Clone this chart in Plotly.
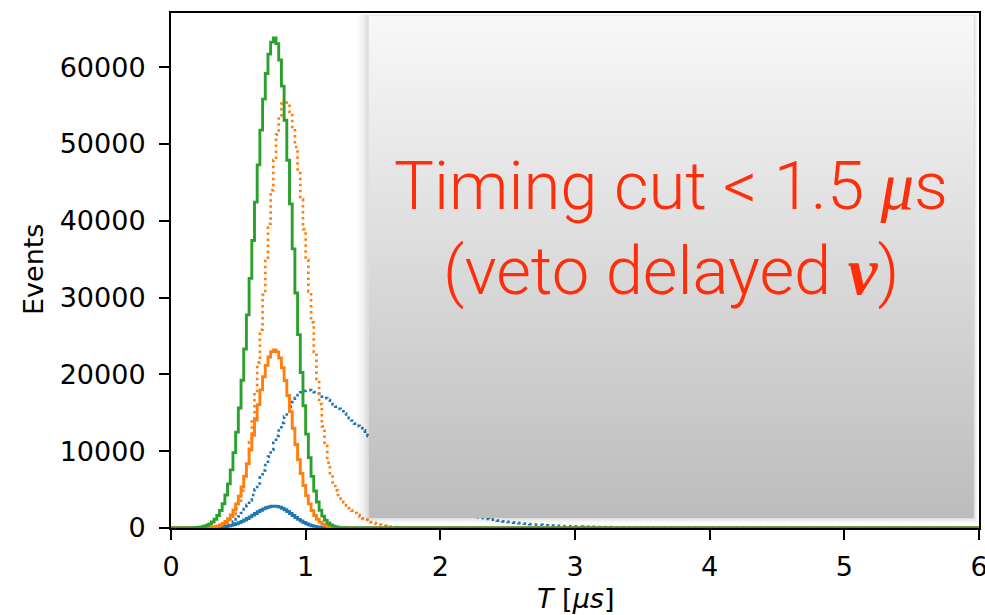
import numpy as np
import plotly.graph_objects as go

# ---------------- data: histogram bin contents, bins of 0.02 us starting at T = 0 ----------------
BIN_WIDTH = 0.02
HIST_START = 0.0
HIST_END = 6.0

green_solid = [0, 1, 1, 2, 4, 7, 13, 21, 36, 58, 93, 148, 230, 351, 528, 780, 1130, 1620, 2280,
               3160, 4300, 5750, 7570, 9810, 12480, 15630, 19240, 23300, 27750, 32510, 37440, 42430,
               47280, 51810, 55840, 59190, 61710, 63270, 63800, 63070, 60940, 57540, 53090, 47880,
               42200, 36350, 30600, 25180, 20240, 15910, 12220, 9170, 6720, 4820, 3380, 2310, 1550,
               1010, 647, 404, 247, 147, 86, 49, 27, 15, 8, 4, 2, 1, 1]

orange_solid = [0, 0, 0, 0, 0, 0, 1, 1, 2, 4, 8, 14, 23, 39, 65, 105, 166, 258, 392, 582, 851, 1220,
                1700, 2340, 3140, 4140, 5340, 6750, 8360, 10150, 12070, 14070, 16070, 17980, 19700,
                21170, 22270, 22960, 23200, 22930, 22130, 20860, 19200, 17260, 15150, 12990, 10880,
                8900, 7100, 5540, 4220, 3140, 2280, 1620, 1120, 759, 502, 324, 204, 125, 75, 44, 25,
                14, 8, 4, 2, 1]

blue_solid = [0, 0, 0, 0, 0, 0, 1, 1, 2, 3, 4, 7, 10, 16, 24, 35, 50, 72, 102, 141, 192, 257, 338,
              438, 557, 698, 859, 1041, 1240, 1452, 1672, 1895, 2112, 2314, 2494, 2644, 2757, 2826,
              2850, 2817, 2722, 2570, 2372, 2139, 1885, 1624, 1367, 1125, 904, 711, 546, 410, 300,
              215, 151, 103, 69, 45, 29, 18, 11, 7, 4, 2, 1, 1]

orange_dotted = [0, 0, 0, 0, 0, 0, 0, 0, 1, 2, 3, 6, 11, 19, 32, 54, 90, 146, 233, 364, 559, 841,
                 1240, 1800, 2560, 3570, 4890, 6560, 8650, 11180, 14180, 17650, 21560, 25820, 30360,
                 35010, 39620, 43990, 47920, 51220, 53720, 55270, 55800, 55390, 54180, 52230, 49610,
                 46440, 42830, 38930, 34870, 30780, 26770, 22940, 19370, 16120, 13220, 10690, 8510,
                 6900, 5700, 4900, 4300, 3800, 3350, 2950, 2600, 2250, 1950, 1700, 1450, 1250, 1050,
                 900, 760, 640, 530, 440, 360, 290, 230, 180, 140, 110, 85, 65, 50, 38, 28, 20, 15,
                 11, 8, 5, 3, 2, 1, 1]

blue_dotted = [0, 0, 0, 0, 0, 0, 0, 0,
               1, 2, 4, 6, 10, 15, 24, 36, 55, 85, 125, 180, 260, 370, 560, 820, 1150,
               1500, 1950, 2450, 3000, 3600, 4300, 5000, 5800, 6600, 7500, 8400, 9300, 10200, 11100,
               12000, 12900, 13700, 14500, 15200, 15800, 16400, 16900, 17300, 17650, 17850,
               17950, 17950, 17850, 17700, 17500, 17300, 17100, 16900, 16650, 16400, 16100, 15800,
               15500, 15200, 14900, 14600, 14300, 14000, 13600, 13300, 13000, 12700, 12350, 12000, 11600,
               11100, 10600, 10100, 9600, 9100, 8650, 8200, 7800, 7400, 7000, 6650, 6300, 6000, 5700,
               5400, 5100, 4850, 4600, 4350, 4150, 3900, 3700, 3520, 3340, 3170,
               3000, 2850, 2700, 2560, 2430, 2300, 2180, 2070, 1960, 1860, 1760, 1670, 1580, 1500,
               1420, 1340, 1270, 1200, 1140, 1080, 1020, 970, 920, 870, 820,
               780, 740, 700, 660, 625, 590, 560, 530, 500, 475, 450, 425, 400, 380, 360, 340, 320,
               305, 290, 275, 260, 245, 232, 220, 208,
               197, 186, 176, 167, 158, 150, 143, 136, 130, 124, 118, 113, 108, 104, 100, 96, 93, 90,
               87, 84,
               81, 79, 77, 75, 73, 71, 70, 68, 67, 65, 64, 63, 62, 60, 59, 58, 57, 56, 55, 54,
               53, 52, 51, 50, 49, 48, 48, 47, 46, 45, 44, 44, 43, 42, 41, 41, 40, 39, 39, 38,
               37, 37, 36, 36, 35, 34, 34, 33, 33, 32, 32, 31, 31, 30, 30, 29, 29, 28, 28, 27,
               27, 27, 26, 26, 25, 25, 25, 24, 24, 23, 23, 23, 22, 22, 22, 21, 21, 21, 20, 20,
               20, 19, 19, 19, 18, 18, 18, 18, 17, 17, 17, 17, 16, 16, 16, 16, 15, 15, 15, 15,
               15, 14, 14, 14, 14, 14, 13, 13, 13, 13, 13, 12, 12, 12, 12, 12, 12, 11, 11, 11,
               11, 11, 11, 10, 10, 10, 10, 10, 10, 9]

x_ticks = [0, 1, 2, 3, 4, 5, 6]
y_ticks = [0, 10000, 20000, 30000, 40000, 50000, 60000]
y_tick_labels = [str(v) for v in y_ticks]

SERIF = "font-family:'Liberation Serif',serif"
annotation_line1 = f"Timing cut &lt; 1.5 <span style=\"{SERIF}\"><i>μ</i></span>s"
annotation_line2 = f"(veto delayed <span style=\"{SERIF}\"><b><i>ν</i></b></span>)"

# ---------------- styles / layout constants ----------------
X_RANGE = [0, 6]
Y_RANGE = [0, 67060]
BOX_X = [1.469, 5.962]
BOX_Y = [1300, 66750]
C_BLUE, C_ORANGE, C_GREEN = "#1f77b4", "#ff7f0e", "#2ca02c"
TEXT_RED = "#ff2d0a"
TICK_FONT = dict(family="DejaVu Sans", size=27, color="black")

ML, MR, MT, MB = 171, 6, 13, 87
W, H = 985, 615
PW, PH = W - ML - MR, H - MT - MB
px_x = (X_RANGE[1] - X_RANGE[0]) / PW
px_y = (Y_RANGE[1] - Y_RANGE[0]) / PH


def step_xy(vals):
    n_total = int(round((HIST_END - HIST_START) / BIN_WIDTH))
    v = list(vals) + [0] * (n_total - len(vals))
    edges = HIST_START + BIN_WIDTH * np.arange(n_total + 1)
    return edges, v + [v[-1]]


fig = go.Figure()

series = [
    (blue_dotted, C_BLUE, "2.5px,3.5px", 2.7),
    (orange_dotted, C_ORANGE, "2.5px,3.5px", 2.7),
    (blue_solid, C_BLUE, "solid", 2.9),
    (orange_solid, C_ORANGE, "solid", 2.9),
    (green_solid, C_GREEN, "solid", 2.9),
]
for vals, col, dash, wdt in series:
    xs, ys = step_xy(vals)
    fig.add_trace(go.Scatter(x=xs, y=ys, mode="lines",
                             line=dict(color=col, width=wdt, dash=dash, shape="hv"),
                             hoverinfo="skip", showlegend=False))

# soft shadow around the overlay box (mostly left and bottom)
for k, alpha in [(12, 0.018), (9, 0.025), (6, 0.035), (3, 0.05)]:
    x0, x1 = BOX_X[0] - k * px_x, BOX_X[1] + k * px_x * 0.35
    y0, y1 = BOX_Y[0] - k * px_y * 0.45, BOX_Y[1] + k * px_y * 0.1
    fig.add_trace(go.Scatter(x=[x0, x1, x1, x0, x0], y=[y0, y0, y1, y1, y0], mode="lines",
                             fill="toself", fillcolor=f"rgba(0,0,0,{alpha})", line=dict(width=0),
                             hoverinfo="skip", showlegend=False))

# gradient overlay box
fig.add_trace(go.Scatter(
    x=[BOX_X[0], BOX_X[1], BOX_X[1], BOX_X[0], BOX_X[0]],
    y=[BOX_Y[0], BOX_Y[0], BOX_Y[1], BOX_Y[1], BOX_Y[0]],
    mode="lines", fill="toself", line=dict(width=0),
    fillgradient=dict(type="vertical", colorscale=[[0, "#bcbcbc"], [1, "#f8f8f8"]]),
    hoverinfo="skip", showlegend=False))

axis_common = dict(showgrid=False, zeroline=False, showline=True, linecolor="black", linewidth=2,
                   mirror=True, ticks="outside", ticklen=10, tickwidth=2, tickcolor="black",
                   tickfont=TICK_FONT, ticklabeloverflow="allow", automargin=False)

fig.update_layout(
    width=W, height=H,
    margin=dict(l=ML, r=MR, t=MT, b=MB, autoexpand=False),
    paper_bgcolor="white", plot_bgcolor="white",
    xaxis=dict(range=X_RANGE, tickvals=x_ticks, ticktext=[str(t) for t in x_ticks],
               ticklabelstandoff=4, **axis_common),
    yaxis=dict(range=Y_RANGE, tickvals=y_ticks, ticktext=y_tick_labels, ticklabelstandoff=8,
               **axis_common),
    showlegend=False,
)

fig.add_annotation(text="Events", xref="paper", yref="paper", x=(33 - ML) / PW, y=(MT + PH - 270) / PH,
                   textangle=-90, showarrow=False, xanchor="center", yanchor="middle",
                   font=dict(family="DejaVu Sans", size=27, color="black"))
fig.add_annotation(text="<i>T</i> [<i>μs</i>]", xref="paper", yref="paper", x=0.5, y=(MT + PH - 598) / PH,
                   showarrow=False, xanchor="center", yanchor="middle",
                   font=dict(family="DejaVu Sans", size=27, color="black"))

cx = ((BOX_X[0] + BOX_X[1]) / 2 - X_RANGE[0]) / (X_RANGE[1] - X_RANGE[0])
for txt, ypx in [(annotation_line1, 186), (annotation_line2, 271)]:
    fig.add_annotation(text=txt, xref="paper", yref="paper", x=cx, y=(MT + PH - ypx) / PH,
                       showarrow=False, xanchor="center", yanchor="middle",
                       font=dict(family="Roboto", size=67, color=TEXT_RED, weight=300))

fig.write_html("out.html")
